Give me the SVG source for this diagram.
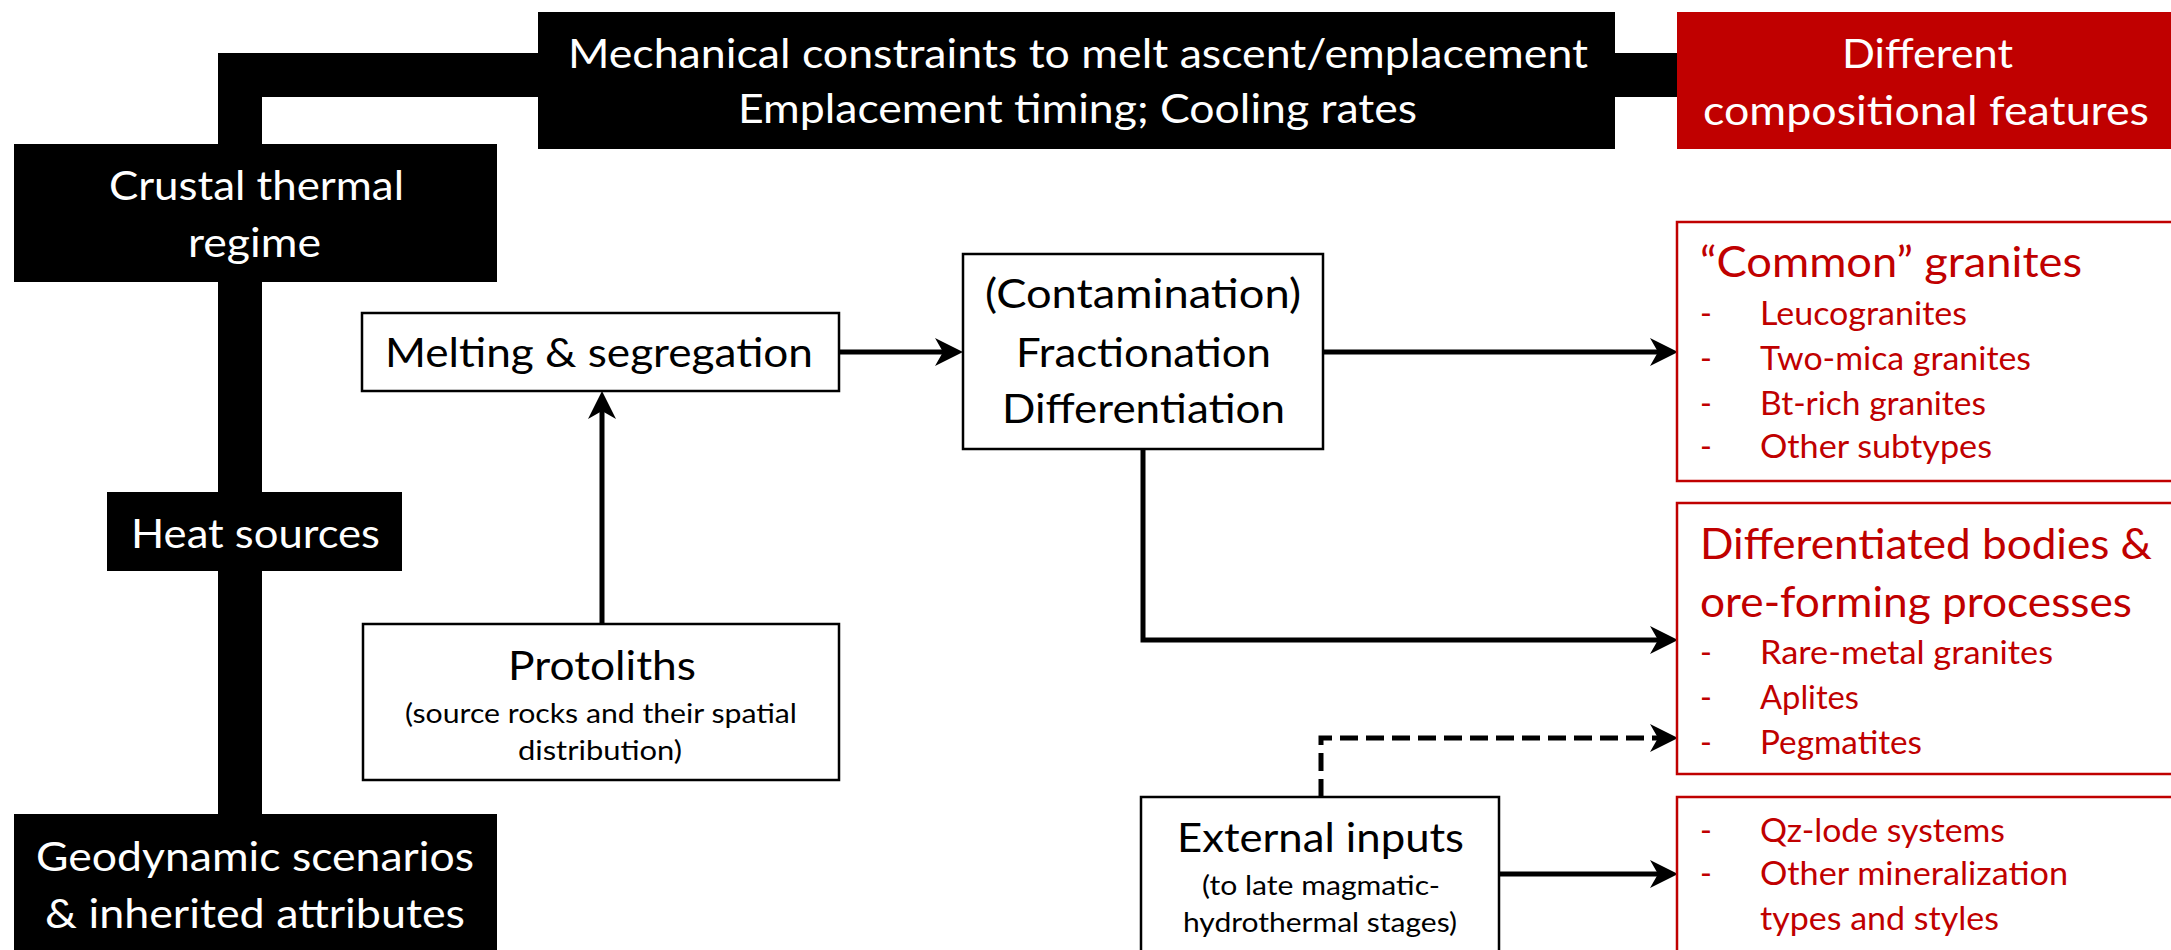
<svg xmlns="http://www.w3.org/2000/svg" width="2171" height="950" viewBox="0 0 2171 950">
  <style>
    text { font-family: Lato, "Open Sans", "Liberation Sans", sans-serif; }
    .dark { fill: #000000; }
    .red-fill { fill: #C00000; }
    .plain { fill: #ffffff; stroke: #000000; stroke-width: 2.5; }
    .red-box { fill: #ffffff; stroke: #C00000; stroke-width: 2.5; }
    .w { fill: #ffffff; font-size: 40px; }
    .b { fill: #000000; font-size: 40px; }
    .bs { fill: #000000; font-size: 26px; }
    .rh { fill: #C00000; font-size: 43px; }
    .ri { fill: #C00000; font-size: 32px; }
    .trunk { fill: none; stroke: #000000; stroke-width: 44; stroke-linejoin: miter; }
    .flow { fill: none; stroke: #000000; stroke-width: 5; }
    .dash { stroke-dasharray: 18 8; }
  </style>
  <defs>
    <marker id="head" markerUnits="userSpaceOnUse" markerWidth="30" markerHeight="30" refX="9" refY="14" orient="auto">
      <path d="M0,0 L28,14 L0,28 L8,14 Z" fill="#000000"/>
    </marker>
  </defs>

  <rect width="2171" height="950" fill="#ffffff"/>

  <!-- connectors -->
  <g id="connectors">
    <path class="trunk" d="M240,830 V75 H1690"/>
    <path class="flow" d="M839,352 H944" marker-end="url(#head)"/>
    <path class="flow" d="M602,624 V410" marker-end="url(#head)"/>
    <path class="flow" d="M1323,352 H1659" marker-end="url(#head)"/>
    <path class="flow" d="M1143,449 V640 H1659" marker-end="url(#head)"/>
    <path class="flow" d="M1499,874 H1659" marker-end="url(#head)"/>
    <path class="flow dash" d="M1321,797 V738 H1659" marker-end="url(#head)"/>
  </g>

  <g id="mechanical">
    <rect class="dark" x="538" y="12" width="1077" height="137"/>
    <text class="w" x="568" y="68" textLength="1020" lengthAdjust="spacingAndGlyphs">Mechanical constraints to melt ascent/emplacement</text>
    <text class="w" x="738" y="123" textLength="679" lengthAdjust="spacingAndGlyphs">Emplacement timing; Cooling rates</text>
  </g>

  <g id="compositional">
    <rect class="red-fill" x="1677" y="12" width="500" height="137"/>
    <text class="w" x="1842" y="68" textLength="171" lengthAdjust="spacingAndGlyphs">Different</text>
    <text class="w" x="1703" y="125" textLength="446" lengthAdjust="spacingAndGlyphs">compositional features</text>
  </g>

  <g id="crustal">
    <rect class="dark" x="14" y="144" width="483" height="138"/>
    <text class="w" x="109" y="200" textLength="295" lengthAdjust="spacingAndGlyphs">Crustal thermal</text>
    <text class="w" x="188" y="257" textLength="133" lengthAdjust="spacingAndGlyphs">regime</text>
  </g>

  <g id="heat">
    <rect class="dark" x="107" y="492" width="295" height="79"/>
    <text class="w" x="131" y="548" textLength="249" lengthAdjust="spacingAndGlyphs">Heat sources</text>
  </g>

  <g id="geodynamic">
    <rect class="dark" x="14" y="814" width="483" height="150"/>
    <text class="w" x="36" y="871" textLength="438" lengthAdjust="spacingAndGlyphs">Geodynamic scenarios</text>
    <text class="w" x="45" y="928" textLength="420" lengthAdjust="spacingAndGlyphs">&amp; inherited attributes</text>
  </g>

  <g id="melting">
    <rect class="plain" x="362" y="313" width="477" height="78"/>
    <text class="b" x="385" y="367" textLength="428" lengthAdjust="spacingAndGlyphs">Melting &amp; segregation</text>
  </g>

  <g id="protoliths">
    <rect class="plain" x="363" y="624" width="476" height="156"/>
    <text class="b" x="508" y="680" textLength="188" lengthAdjust="spacingAndGlyphs">Protoliths</text>
    <text class="bs" x="405" y="723" textLength="392" lengthAdjust="spacingAndGlyphs">(source rocks and their spatial</text>
    <text class="bs" x="518" y="760" textLength="164" lengthAdjust="spacingAndGlyphs">distribution)</text>
  </g>

  <g id="fractionation">
    <rect class="plain" x="963" y="254" width="360" height="195"/>
    <text class="b" x="985" y="308" textLength="316" lengthAdjust="spacingAndGlyphs">(Contamination)</text>
    <text class="b" x="1016" y="367" textLength="255" lengthAdjust="spacingAndGlyphs">Fractionation</text>
    <text class="b" x="1002" y="423" textLength="283" lengthAdjust="spacingAndGlyphs">Differentiation</text>
  </g>

  <g id="external">
    <rect class="plain" x="1141" y="797" width="358" height="170"/>
    <text class="b" x="1177" y="852" textLength="287" lengthAdjust="spacingAndGlyphs">External inputs</text>
    <text class="bs" x="1202" y="895" textLength="238" lengthAdjust="spacingAndGlyphs">(to late magmatic-</text>
    <text class="bs" x="1183" y="932" textLength="274" lengthAdjust="spacingAndGlyphs">hydrothermal stages)</text>
  </g>

  <g id="common-granites">
    <rect class="red-box" x="1677" y="222" width="510" height="259"/>
    <text class="rh" x="1700" y="277" textLength="382" lengthAdjust="spacingAndGlyphs">“Common” granites</text>
    <text class="ri" x="1700" y="325">-</text>
    <text class="ri" x="1760" y="325" textLength="207" lengthAdjust="spacingAndGlyphs">Leucogranites</text>
    <text class="ri" x="1700" y="370">-</text>
    <text class="ri" x="1760" y="370" textLength="271" lengthAdjust="spacingAndGlyphs">Two-mica granites</text>
    <text class="ri" x="1700" y="415">-</text>
    <text class="ri" x="1760" y="415" textLength="226" lengthAdjust="spacingAndGlyphs">Bt-rich granites</text>
    <text class="ri" x="1700" y="458">-</text>
    <text class="ri" x="1760" y="458" textLength="232" lengthAdjust="spacingAndGlyphs">Other subtypes</text>
  </g>

  <g id="differentiated-bodies">
    <rect class="red-box" x="1677" y="503" width="510" height="271"/>
    <text class="rh" x="1700" y="559" textLength="452" lengthAdjust="spacingAndGlyphs">Differentiated bodies &amp;</text>
    <text class="rh" x="1700" y="617" textLength="432" lengthAdjust="spacingAndGlyphs">ore-forming processes</text>
    <text class="ri" x="1700" y="664">-</text>
    <text class="ri" x="1760" y="664" textLength="293" lengthAdjust="spacingAndGlyphs">Rare-metal granites</text>
    <text class="ri" x="1700" y="709">-</text>
    <text class="ri" x="1760" y="709" textLength="99" lengthAdjust="spacingAndGlyphs">Aplites</text>
    <text class="ri" x="1700" y="754">-</text>
    <text class="ri" x="1760" y="754" textLength="162" lengthAdjust="spacingAndGlyphs">Pegmatites</text>
  </g>

  <g id="mineralization">
    <rect class="red-box" x="1677" y="797" width="510" height="170"/>
    <text class="ri" x="1700" y="842">-</text>
    <text class="ri" x="1760" y="842" textLength="245" lengthAdjust="spacingAndGlyphs">Qz-lode systems</text>
    <text class="ri" x="1700" y="885">-</text>
    <text class="ri" x="1760" y="885" textLength="308" lengthAdjust="spacingAndGlyphs">Other mineralization</text>
    <text class="ri" x="1760" y="930" textLength="239" lengthAdjust="spacingAndGlyphs">types and styles</text>
  </g>
</svg>
